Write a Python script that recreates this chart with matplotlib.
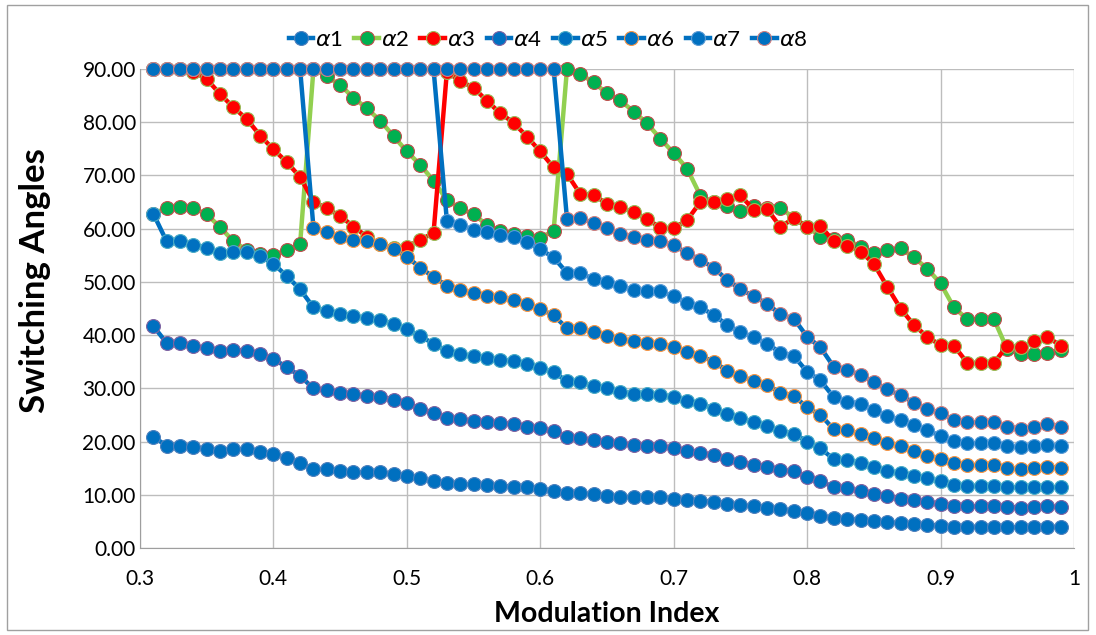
import numpy as np
import matplotlib
matplotlib.use('Agg')
import matplotlib.pyplot as plt
from matplotlib.patches import Rectangle
from matplotlib.ticker import FuncFormatter, MultipleLocator

# modulation index
m = [0.31, 0.32, 0.33, 0.34, 0.35, 0.36, 0.37, 0.38, 0.39, 0.40,
     0.41, 0.42, 0.43, 0.44, 0.45, 0.46, 0.47, 0.48, 0.49, 0.50,
     0.51, 0.52, 0.53, 0.54, 0.55, 0.56, 0.57, 0.58, 0.59, 0.60,
     0.61, 0.62, 0.63, 0.64, 0.65, 0.66, 0.67, 0.68, 0.69, 0.70,
     0.71, 0.72, 0.73, 0.74, 0.75, 0.76, 0.77, 0.78, 0.79, 0.80,
     0.81, 0.82, 0.83, 0.84, 0.85, 0.86, 0.87, 0.88, 0.89, 0.90,
     0.91, 0.92, 0.93, 0.94, 0.95, 0.96, 0.97, 0.98, 0.99]

a1 = [20.9, 19.2, 19.2, 19.0, 18.6, 18.3, 18.6, 18.6, 18.1, 17.7,
      17.0, 16.0, 14.9, 14.8, 14.5, 14.3, 14.2, 14.2, 13.9, 13.5,
      13.1, 12.5, 12.2, 12.0, 12.0, 11.9, 11.7, 11.5, 11.4, 11.1,
      10.8, 10.3, 10.3, 10.1, 9.8, 9.6, 9.6, 9.5, 9.5, 9.3,
      9.1, 8.9, 8.7, 8.3, 8.1, 7.8, 7.6, 7.3, 7.0, 6.5,
      6.1, 5.6, 5.4, 5.3, 5.0, 4.8, 4.7, 4.5, 4.4, 4.2,
      4.0, 4.0, 4.0, 4.0, 3.9, 3.9, 3.9, 4.0, 4.0]

a2 = [62.8, 63.9, 64.1, 63.9, 62.7, 60.3, 57.6, 56.0, 55.3, 55.1,
      56.0, 57.1, 90.0, 88.6, 87.0, 84.6, 82.6, 80.3, 77.4, 74.5,
      72.0, 69.0, 65.4, 63.8, 62.7, 60.7, 59.6, 59.0, 58.6, 58.3,
      59.6, 90.0, 89.0, 87.5, 85.4, 84.1, 82.0, 79.8, 76.9, 74.2,
      71.3, 66.2, 65.0, 64.3, 63.4, 64.3, 63.9, 63.9, 62.0, 60.4,
      58.5, 58.0, 57.9, 56.6, 55.5, 55.9, 56.3, 54.6, 52.5, 49.7,
      45.2, 43.0, 43.0, 43.0, 37.3, 36.4, 36.4, 36.7, 37.2]

a3 = [90.0, 90.0, 90.0, 89.5, 88.1, 85.3, 82.8, 80.6, 77.5, 74.9,
      72.5, 69.7, 65.1, 63.8, 62.4, 60.4, 58.5, 57.1, 56.3, 56.6,
      57.9, 59.2, 89.5, 87.7, 86.5, 84.0, 81.7, 79.9, 77.3, 74.5,
      71.5, 70.3, 66.5, 66.4, 64.6, 64.0, 63.1, 61.8, 60.2, 60.1,
      61.6, 65.0, 65.1, 65.6, 66.3, 63.5, 63.7, 60.3, 62.0, 60.3,
      60.5, 57.6, 56.8, 55.7, 53.4, 49.1, 45.0, 41.9, 39.7, 38.1,
      38.0, 34.8, 34.8, 34.8, 38.0, 37.7, 38.8, 39.7, 38.0]

a4 = [41.7, 38.5, 38.5, 38.0, 37.5, 37.0, 37.2, 37.1, 36.5, 35.5,
      34.0, 32.3, 30.0, 29.6, 29.2, 28.9, 28.6, 28.4, 27.9, 27.3,
      26.2, 25.4, 24.5, 24.2, 23.9, 23.7, 23.5, 23.3, 22.8, 22.5,
      21.9, 20.8, 20.6, 20.2, 20.0, 19.7, 19.4, 19.2, 19.1, 18.8,
      18.3, 17.9, 17.5, 16.7, 16.2, 15.6, 15.2, 14.7, 14.4, 13.4,
      12.6, 11.4, 11.2, 10.7, 10.1, 9.8, 9.3, 9.0, 8.7, 8.3,
      7.9, 7.8, 7.8, 7.8, 7.7, 7.6, 7.7, 7.8, 7.7]

a5 = [62.8, 57.6, 57.7, 57.0, 56.4, 55.4, 55.6, 55.7, 54.8, 53.4,
      51.1, 48.6, 45.2, 44.6, 44.0, 43.6, 43.2, 42.9, 42.1, 41.1,
      39.8, 38.4, 37.0, 36.4, 36.0, 35.7, 35.4, 35.1, 34.6, 33.8,
      33.1, 31.3, 31.2, 30.4, 30.0, 29.4, 29.0, 28.9, 28.8, 28.4,
      27.7, 27.1, 26.2, 25.2, 24.4, 23.7, 22.9, 22.0, 21.5, 20.0,
      18.7, 16.7, 16.5, 16.0, 15.2, 14.5, 14.1, 13.5, 13.1, 12.5,
      11.9, 11.7, 11.7, 11.7, 11.4, 11.4, 11.4, 11.5, 11.4]

a6 = [90.0, 90.0, 90.0, 90.0, 90.0, 90.0, 90.0, 90.0, 90.0, 90.0,
      90.0, 90.0, 60.2, 59.3, 58.5, 57.9, 57.6, 57.1, 56.1, 54.7,
      52.7, 50.9, 49.3, 48.4, 47.9, 47.4, 47.1, 46.6, 45.9, 44.9,
      43.7, 41.3, 41.3, 40.5, 39.8, 39.2, 38.8, 38.5, 38.3, 37.8,
      36.9, 36.1, 35.0, 33.3, 32.3, 31.4, 30.6, 29.2, 28.6, 26.4,
      25.0, 22.3, 22.2, 21.4, 20.6, 19.8, 19.1, 18.3, 17.3, 16.7,
      15.9, 15.6, 15.6, 15.6, 15.0, 14.8, 15.0, 15.3, 15.0]

a7 = [90.0, 90.0, 90.0, 90.0, 90.0, 90.0, 90.0, 90.0, 90.0, 90.0,
      90.0, 90.0, 90.0, 90.0, 90.0, 90.0, 90.0, 90.0, 90.0, 90.0,
      90.0, 90.0, 61.5, 60.7, 59.8, 59.3, 58.9, 58.4, 57.5, 56.1,
      54.6, 51.7, 51.7, 50.5, 49.9, 49.2, 48.5, 48.2, 48.2, 47.3,
      46.1, 45.2, 43.8, 41.9, 40.6, 39.6, 38.4, 36.7, 36.1, 33.1,
      31.5, 28.3, 27.5, 27.1, 25.9, 24.8, 24.0, 23.1, 22.2, 21.0,
      20.1, 19.7, 19.7, 19.7, 19.2, 18.9, 19.1, 19.4, 19.1]

a8 = [90.0, 90.0, 90.0, 90.0, 90.0, 90.0, 90.0, 90.0, 90.0, 90.0,
      90.0, 90.0, 90.0, 90.0, 90.0, 90.0, 90.0, 90.0, 90.0, 90.0,
      90.0, 90.0, 90.0, 90.0, 90.0, 90.0, 90.0, 90.0, 90.0, 90.0,
      90.0, 61.9, 62.0, 61.0, 60.2, 59.0, 58.4, 57.9, 57.7, 56.9,
      55.4, 54.2, 52.6, 50.4, 48.6, 47.3, 45.9, 43.9, 43.1, 39.7,
      37.7, 34.0, 33.5, 32.5, 31.2, 29.8, 28.7, 27.3, 26.2, 25.3,
      24.1, 23.6, 23.6, 23.6, 22.8, 22.4, 22.8, 23.3, 22.8]

labels = [r'$\alpha$1', r'$\alpha$2', r'$\alpha$3', r'$\alpha$4',
          r'$\alpha$5', r'$\alpha$6', r'$\alpha$7', r'$\alpha$8']

blue = '#0070C0'
# (line colour, marker fill, marker edge)
styles = [(blue, blue, '#4F81BD'),
          ('#92D050', '#00B050', '#C0504D'),
          ('#FF0000', '#FF0000', '#9BBB59'),
          (blue, blue, '#8064A2'),
          (blue, blue, '#4BACC6'),
          (blue, blue, '#F79646'),
          (blue, blue, '#5B9BD5'),
          (blue, blue, '#D08080')]

plt.rcParams['font.family'] = ['Lato', 'DejaVu Sans']
plt.rcParams['mathtext.fontset'] = 'dejavusans'

fig = plt.figure(figsize=(10.96, 6.35), dpi=100)
ax = fig.add_axes([140/1096, 87/635, 934/1096, 479/635])

series = [a1, a2, a3, a4, a5, a6, a7, a8]
handles = []
for i, (y, lab) in enumerate(zip(series, labels)):
    lc, fc, ec = styles[i]
    h, = ax.plot(m, y, color=lc, lw=3.2, marker='o', markersize=10,
                 markerfacecolor=fc, markeredgecolor=ec, markeredgewidth=0.8,
                 label=lab, zorder=3 + i, clip_on=False)
    handles.append(h)

ax.set_xlim(0.3, 1.0)
ax.set_ylim(0, 90)
ax.xaxis.set_major_locator(MultipleLocator(0.1))
ax.yaxis.set_major_locator(MultipleLocator(10))
ax.xaxis.set_major_formatter(FuncFormatter(lambda v, p: '1' if abs(v - 1) < 1e-9 else f'{v:.1f}'))
ax.yaxis.set_major_formatter(FuncFormatter(lambda v, p: f'{v:.2f}'))
ax.grid(True, color='#BDBDBD', lw=1.0)
ax.set_axisbelow(True)
for s in ['top', 'right']:
    ax.spines[s].set_visible(False)
for s in ['left', 'bottom']:
    ax.spines[s].set_color('#9E9E9E')
ax.tick_params(axis='y', length=0, labelsize=15, pad=3)
ax.tick_params(axis='x', length=0, labelsize=15, pad=15)
ax.set_xlabel('Modulation Index', fontsize=20.5, fontweight='bold')
ax.xaxis.set_label_coords(0.5, -(601 - 548) / 479)
ax.set_ylabel('Switching Angles', fontsize=25, fontweight='bold')
ax.yaxis.set_label_coords((51 - 140) / 934, (548 - 281) / 479)

fig.legend(handles=handles, loc='center', bbox_to_anchor=(0.5, 1 - 40/635),
           ncol=8, frameon=False, fontsize=16, handlelength=1.1,
           handletextpad=0.1, columnspacing=0.5, markerscale=1.0)

fig.patches.append(Rectangle((7/1096, 5/635), 1081/1096, 625/635,
                             transform=fig.transFigure, fill=False,
                             edgecolor='#A0A0A0', lw=1))

fig.savefig('out.png', dpi=100)
